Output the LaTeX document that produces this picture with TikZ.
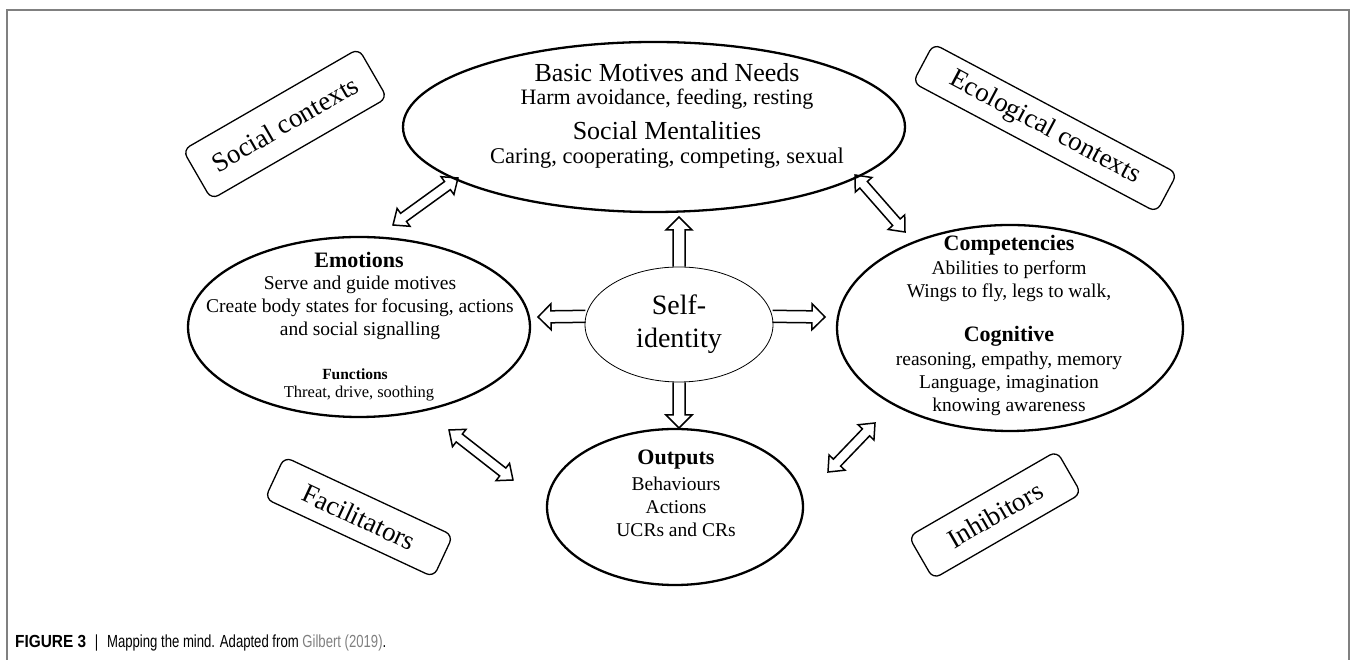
\documentclass[tikz,border=0pt]{standalone}
\usepackage{fontspec}
\setmainfont{Liberation Serif}
\newfontfamily\capfont[FakeStretch=0.88]{Liberation Sans}
\newfontfamily\capfontn[FakeStretch=0.75]{Liberation Sans}
\usepackage{tikz}
\usetikzlibrary{calc,shapes.geometric,positioning}

\newcommand{\fs}[2]{\fontsize{#1}{#2}\selectfont}

% hollow block arrow, heads at both ends
\newcommand{\dblarrow}[2]{%
  \draw[hollow] let \p1=($(#2)-(#1)$),
      \p2=($(#1)!13pt!(#2)$), \p3=($(#2)!13pt!(#1)$),
      \p4=($(0,0)!11pt!90:(\x1,\y1)$), \p5=($(0,0)!5pt!90:(\x1,\y1)$) in
    (#1) -- ($(\p2)+(\p4)$) -- ($(\p2)+(\p5)$) -- ($(\p3)+(\p5)$) -- ($(\p3)+(\p4)$)
    -- (#2) -- ($(\p3)-(\p4)$) -- ($(\p3)-(\p5)$) -- ($(\p2)-(\p5)$) -- ($(\p2)-(\p4)$) -- cycle;}
% hollow block arrow, one head
\newcommand{\sglarrow}[2]{%
  \draw[hollow] let \p1=($(#2)-(#1)$), \p3=($(#2)!13pt!(#1)$),
      \p4=($(0,0)!13pt!90:(\x1,\y1)$), \p5=($(0,0)!6pt!90:(\x1,\y1)$) in
    ($(#1)+(\p5)$) -- ($(\p3)+(\p5)$) -- ($(\p3)+(\p4)$) -- (#2)
    -- ($(\p3)-(\p4)$) -- ($(\p3)-(\p5)$) -- ($(#1)-(\p5)$);}

\begin{document}
\begin{tikzpicture}[x=1pt,y=1pt,
  bigell/.style={draw, ellipse, line width=2.3pt, inner sep=0pt},
  ctxbox/.style={draw, rounded corners=8pt, line width=1.3pt, inner sep=0pt, font=\fs{27}{30}},
  hollow/.style={line width=1.5pt, line join=miter},
  head/.style={font=\bfseries\fs{22}{26}},
  body/.style={align=center, font=\fs{19.5}{23}}]
\useasboundingbox (0,0) rectangle (1356,660);
\draw[gray, line width=1.5pt] (7,0) -- (7,650) -- (1349,650) -- (1349,0);

% motives and mentalities
\node[bigell, minimum width=502pt, minimum height=170pt] (mot) at (654,533) {};
\node[font=\fs{26}{30}] (motA) at (667,587) {Basic Motives and Needs};
\node[font=\fs{22}{26}] (motB) at (667,561) {Harm avoidance, feeding, resting};
\node[font=\fs{26}{30}] (motC) at (667,529) {Social Mentalities};
\node[font=\fs{22.5}{26}] (motD) at (667,502) {Caring, cooperating, competing, sexual};

% emotions
\node[bigell, minimum width=342pt, minimum height=180pt] (emo) at (359,333) {};
\node[head] (emoH) at (359,400) {Emotions};
\node[body] (emoB) at (360,352) {Serve and guide motives\\Create body states for focusing, actions\\and social signalling};
\node[font=\bfseries\fs{15.5}{18}] (funH) at (355,286) {Functions};
\node[font=\fs{16.5}{19}] (funB) at (359,266) {Threat, drive, soothing};

% self
\node[draw, ellipse, line width=0.8pt, inner sep=0pt, minimum width=188pt, minimum height=115pt] (self) at (679,335.5) {};
\node[align=center, font=\fs{28}{33}] (selfT) at (679,336) {Self-\\identity};

% competencies
\node[bigell, minimum width=346pt, minimum height=206pt] (comp) at (1010,332) {};
\node[head] (compH) at (1009,415) {Competencies};
\node[body] (compB) at (1009,379) {Abilities to perform\\Wings to fly, legs to walk,};
\node[head] (cogH) at (1009,324) {Cognitive};
\node[body] (cogB) at (1009,276) {reasoning, empathy, memory\\Language, imagination\\knowing awareness};

% outputs
\node[bigell, minimum width=256pt, minimum height=156pt] (out) at (675,153) {};
\node[head] (outH) at (676,200) {Outputs};
\node[body] (outB) at (676,153) {Behaviours\\Actions\\UCRs and CRs};

% contexts
\node[ctxbox, minimum width=203pt, minimum height=57pt, rotate=30] (soc) at (285,536) {Social contexts};
\node[ctxbox, minimum width=276pt, minimum height=44pt, rotate=-28] (eco) at (1045,532) {Ecological contexts};
\node[ctxbox, minimum width=186pt, minimum height=46pt, rotate=-25] (fac) at (359,143) {Facilitators};
\node[ctxbox, minimum width=171pt, minimum height=49pt, rotate=30] (inh) at (995,145) {Inhibitors};

% arrow ends
\coordinate (e1) at (393,435);
\coordinate (e2) at (458,482);
\coordinate (e3) at (855,485);
\coordinate (e4) at (905,428);
\coordinate (e5) at (449,230);
\coordinate (e6) at (513,180);
\coordinate (e7) at (828,188);
\coordinate (e8) at (875,237);
\coordinate (tU) at (679,443);
\coordinate (tL) at (538,343);
\coordinate (tR) at (825,343);
\coordinate (tD) at (679,232);

\dblarrow{e1}{e2}
\dblarrow{e3}{e4}
\dblarrow{e5}{e6}
\dblarrow{e7}{e8}
\sglarrow{self.north}{tU}
\sglarrow{self.175}{tL}
\sglarrow{self.5}{tR}
\sglarrow{self.south}{tD}

\node[anchor=base west, inner sep=0pt, font=\capfontn\fs{17.5}{20}] (cap) at (15,12)
  {{\capfont\bfseries FIGURE 3}\enspace|\enspace Mapping the mind. Adapted from \textcolor{gray}{Gilbert (2019)}.};
\end{tikzpicture}
\end{document}
